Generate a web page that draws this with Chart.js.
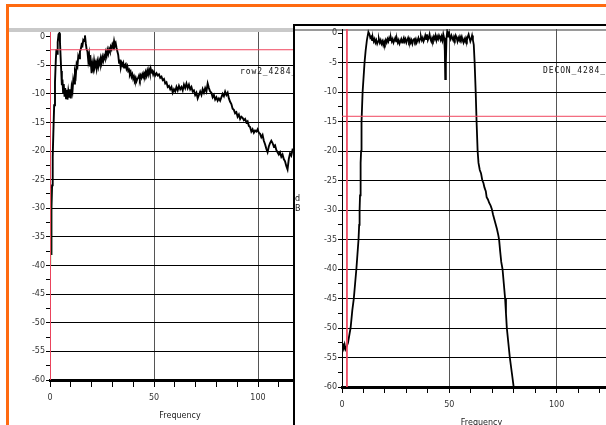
<!DOCTYPE html>
<html>
<head>
<meta charset="utf-8">
<script src="https://cdn.jsdelivr.net/npm/chart.js"></script>
<style>
  html, body { margin: 0; padding: 0; background: #fff; }
  body { width: 606px; height: 425px; overflow: hidden; position: relative; font-family: "DejaVu Sans", sans-serif; }
  .abs { position: absolute; }
  #orange { left: 6px; top: 4px; width: 620px; height: 440px; border-top: 3px solid #ff6a10; border-left: 3px solid #ff6a10; }
  #leftBand { left: 9px; top: 28px; width: 290px; height: 4px; background: #c9c9c9; }
  #rightBox { left: 293px; top: 24px; width: 340px; height: 420px; border-left: 2px solid #000; border-top: 2px solid #000; background: #fff; z-index: 2; }
  #rightBand { left: 295px; top: 29px; width: 320px; height: 2px; background: #9a9a9a; z-index: 3; }
  #c1 { left: 9px; top: 22px; z-index: 1; }
  #c2 { left: 295px; top: 19px; z-index: 4; }
  .tag { font-family: "DejaVu Sans Mono", monospace; font-size: 8px; letter-spacing: 0.9px; color: #111; white-space: nowrap; }
  #tag1 { left: 240px; top: 67px; z-index: 1; }
  #tag2 { left: 543px; top: 66px; z-index: 5; }
  #db2 { left: 295px; top: 194px; font-size: 8px; line-height: 10px; color: #111; z-index: 5; }
</style>
</head>
<body>
<div id="orange" class="abs"></div>
<div id="leftBand" class="abs"></div>
<canvas id="c1" class="abs" width="301" height="403"></canvas>
<div id="tag1" class="abs tag">row2_4284_</div>
<div id="rightBox" class="abs"></div>
<div id="rightBand" class="abs"></div>
<canvas id="c2" class="abs" width="333" height="418"></canvas>
<div id="tag2" class="abs tag">DECON_4284_</div>
<div id="db2" class="abs">d<br>B</div>
<script>
// [frequency, dB]
const row2Spectrum = [
  [0.5,-38],[0.6,-34],[0.8,-30],[1.0,-26],[1.3,-21],[1.6,-17],[2.0,-12],[2.4,-8],[2.8,-4],[3.1,-2.2],
  [3.4,-3],[3.7,-1],[4.1,0.4],[4.5,0.6],[4.8,-1],[5.1,-3.5],[5.4,-6],[5.7,-8.5],[6.0,-7.5],[6.3,-9.8],
  [6.6,-8.3],[7.0,-10.5],[7.3,-9],[7.7,-10.8],[8.0,-9.3],[8.4,-11],[8.8,-9.5],[9.2,-10.5],[9.6,-9.2],[10.0,-10.8],
  [10.4,-8.8],[10.8,-9.6],[11.2,-7.5],[11.6,-8.2],[12.0,-6.2],[12.4,-6.8],[12.8,-4.8],[13.2,-5.2],[13.6,-3.4],[14.0,-3.8],
  [14.4,-2.6],[14.8,-2.2],[15.2,-1.4],[15.6,-1.6],[16.0,-0.6],[16.4,-0.8],[16.8,0.2],[17.2,-1.2],[17.6,-2.2],[18.0,-2.6],
  [18.4,-4.2],[18.8,-3.2],[19.2,-5.2],[19.6,-4.4],[20.0,-6.4],[20.4,-4.8],[20.8,-5.6],[21.2,-4.2],[21.6,-5.2],[22.0,-4.6],
  [22.4,-5.6],[22.8,-4.4],[23.2,-5.2],[23.6,-4.2],[24.0,-4.8],[24.4,-3.8],[24.8,-4.6],[25.2,-3.6],[25.6,-4.2],[26.0,-3.4],
  [26.4,-3.8],[26.8,-2.8],[27.2,-3.4],[27.6,-2.4],[28.0,-3.0],[28.4,-2.2],[28.8,-2.6],[29.2,-1.8],[29.6,-2.2],[30.0,-1.4],
  [30.4,-1.8],[30.8,-0.8],[31.2,-1.6],[31.6,-1.2],[32.0,-2.0],[32.4,-2.6],[32.8,-3.2],[33.2,-4.6],[33.6,-4.0],[34.0,-5.4],
  [34.4,-4.6],[34.8,-5.0],[35.2,-4.6],[35.6,-5.4],[36.0,-5.0],[36.4,-4.8],[36.8,-5.6],[37.2,-5.2],[37.6,-6.0],[38.0,-5.8],
  [38.4,-6.6],[38.8,-6.2],[39.2,-7.0],[39.6,-6.6],[40.0,-7.4],[40.4,-7.0],[40.8,-7.6],[41.2,-7.2],[41.6,-7.8],[42.0,-7.4],
  [42.4,-7.2],[42.8,-6.8],[43.2,-7.4],[43.6,-6.8],[44.0,-7.2],[44.4,-6.6],[44.8,-7.0],[45.2,-6.4],[45.6,-6.8],[46.0,-6.2],
  [46.4,-6.8],[46.8,-6.0],[47.2,-6.6],[47.6,-5.8],[48.0,-6.4],[48.4,-5.6],[48.8,-6.2],[49.2,-6.0],[49.6,-6.6],[50.0,-6.2],
  [50.6,-6.8],[51.2,-6.4],[51.8,-6.8],[52.4,-6.6],[53.0,-7.2],[53.6,-7.0],[54.2,-7.6],[54.8,-7.4],[55.4,-8.2],[56.0,-8.0],
  [56.6,-8.8],[57.2,-8.6],[57.8,-9.2],[58.4,-8.8],[59.0,-9.8],[59.6,-9.2],[60.2,-9.6],[60.8,-8.8],[61.4,-9.4],[62.0,-8.6],
  [62.6,-9.2],[63.2,-8.8],[63.8,-9.4],[64.4,-8.4],[65.0,-9.0],[65.6,-8.2],[66.2,-9.0],[66.8,-8.4],[67.4,-9.2],[68.0,-8.8],
  [68.6,-9.6],[69.2,-9.4],[69.8,-10.2],[70.4,-9.8],[71.0,-10.8],[71.6,-10.2],[72.2,-9.6],[72.8,-10.2],[73.4,-9.2],[74.0,-9.8],
  [74.6,-9.0],[75.2,-9.6],[75.8,-8.2],[76.4,-9.0],[77.0,-9.6],[77.6,-9.8],[78.2,-10.6],[78.8,-10.2],[79.4,-11.0],[80.0,-10.6],
  [80.6,-11.2],[81.2,-10.8],[81.8,-11.2],[82.4,-10.6],[83.0,-10.0],[83.6,-10.4],[84.2,-9.6],[84.8,-10.2],[85.4,-9.8],[86.0,-10.8],
  [86.6,-11.4],[87.2,-11.8],[87.8,-12.6],[88.4,-12.8],[89.0,-13.4],[89.6,-13.2],[90.2,-14.0],[90.8,-13.6],[91.4,-14.4],[92.0,-14.0],
  [92.6,-14.2],[93.2,-14.6],[93.8,-14.4],[94.4,-15.0],[95.0,-14.8],[95.6,-15.6],[96.2,-15.8],[96.8,-16.6],[97.4,-16.2],[98.0,-16.8],
  [98.6,-16.4],[99.2,-16.6],[99.8,-16.2],[100.4,-16.8],[101.0,-17.0],[101.6,-17.6],[102.2,-17.2],[102.8,-18.2],[103.4,-18.8],[104.0,-19.6],
  [104.6,-20.2],[105.2,-19.2],[105.8,-18.6],[106.4,-18.2],[107.0,-18.6],[107.6,-19.2],[108.2,-19.0],[108.8,-19.8],[109.4,-20.2],[110.0,-20.6],
  [110.6,-20.2],[111.2,-21.0],[111.8,-20.6],[112.4,-21.4],[113.0,-21.8],[113.6,-22.6],[114.2,-23.2],[114.8,-21.4],[115.4,-20.4],[116.0,-20.8],
  [116.6,-19.8],[117.2,-20.0],[118,-20.5],[120,-21],[122,-21.5],[125,-22]
];
const row2GreenStub = [[0.2,-26.5],[0.2,-40]];

const deconSpectrum = [
  [0,-53.2],[0.4,-52.6],[0.8,-53.4],[1.2,-52.8],[1.6,-53.6],[2.1,-53.2],[2.8,-52.5],[3.6,-50.8],[4.0,-50],[4.8,-47],
  [5.5,-45],[6.1,-42.5],[6.7,-40],[7.2,-37.5],[7.7,-35],[8.0,-32.5],[8.2,-30],[8.4,-27.5],[8.6,-25],[8.75,-22],
  [8.9,-20],[9.1,-15],[9.6,-10],[10.5,-5],[11.0,-3],[11.6,-1.2],[12.3,0.2],[12.8,-0.2],[13.2,-0.8],[13.6,-0.6],
  [14.0,-1.2],[14.4,-0.8],[14.8,-1.4],[15.2,-1.0],[15.6,-1.6],[16.0,-1.2],[16.4,-1.8],[16.8,-1.4],[17.2,-1.0],[17.6,-1.6],
  [18.0,-1.2],[18.4,-1.8],[18.8,-1.4],[19.2,-2.0],[19.6,-1.4],[20.0,-1.8],[20.4,-1.2],[20.8,-1.6],[21.2,-1.0],[21.6,-1.4],
  [22.0,-0.8],[22.4,-1.2],[22.8,-0.8],[23.2,-1.4],[23.6,-1.0],[24.0,-1.6],[24.4,-1.2],[24.8,-0.8],[25.2,-1.4],[25.6,-1.0],
  [26.0,-1.6],[26.4,-1.2],[26.8,-1.8],[27.2,-1.4],[27.6,-1.0],[28.0,-1.6],[28.4,-1.2],[28.8,-0.8],[29.2,-1.4],[29.6,-1.0],
  [30.0,-1.6],[30.4,-1.2],[30.8,-0.8],[31.2,-1.4],[31.6,-1.0],[32.0,-1.6],[32.4,-1.2],[32.8,-1.8],[33.2,-1.2],[33.6,-1.0],
  [34.0,-1.4],[34.4,-1.0],[34.8,-1.6],[35.2,-1.2],[35.6,-0.8],[36.0,-1.4],[36.4,-1.0],[36.8,-0.6],[37.2,-1.2],[37.6,-0.8],
  [38.0,-1.4],[38.4,-1.0],[38.8,-0.4],[39.2,-1.0],[39.6,-0.2],[40.0,-1.2],[40.4,-0.8],[40.8,-0.2],[41.2,-1.0],[41.6,-1.4],
  [42.0,-0.8],[42.4,-1.2],[42.8,-0.6],[43.2,-1.0],[43.6,-0.4],[44.0,-1.2],[44.4,-0.6],[44.8,-1.0],[45.2,-0.4],[45.6,-0.8],
  [46.0,-1.2],[46.4,-0.6],[46.8,-1.2],[47.2,-0.2],[47.6,-0.8],[47.9,-3.0],[48.1,-7.8],[48.4,-5.0],[48.7,-0.8],[49.0,0.2],
  [49.4,-0.6],[49.8,0.3],[50.2,-0.6],[50.6,-1.0],[51.0,-0.4],[51.4,-0.8],[51.8,-1.2],[52.2,-0.6],[52.6,-1.0],[53.0,-0.4],
  [53.4,-0.8],[53.8,-1.4],[54.2,-0.8],[54.6,-1.2],[55.0,-0.6],[55.4,-1.0],[55.8,-0.6],[56.2,-1.2],[56.6,-1.6],[57.0,-1.0],
  [57.4,-1.4],[57.8,-0.8],[58.2,-1.2],[58.6,-0.6],[59.0,-0.2],[59.4,-0.8],[59.8,-1.4],[60.2,-1.0],[60.6,-0.4],[61.0,-1.2],
  [61.4,-2.0],[61.8,-5],[62.3,-10],[62.7,-15],[63.2,-20],[63.6,-22],[64.2,-23.2],[64.8,-23.8],[65.4,-25.0],[65.9,-25.4],
  [66.4,-26.2],[67.0,-26.8],[67.4,-27.8],[68.0,-28.2],[68.6,-28.8],[69.2,-29.2],[69.8,-29.8],[70.4,-30.8],[71.0,-31.6],[71.6,-32.4],
  [72.2,-33.2],[72.8,-34.2],[73.2,-35],[73.7,-37],[74.2,-38.8],[74.8,-40],[75.4,-42.5],[76.0,-45],[76.4,-47.5],[76.8,-50],
  [77.5,-52.5],[78.2,-55],[79.1,-57.5],[80.0,-60]
];

const row2CursorDb = -2.3;
const deconCursorDb = -14.1;
const deconCursorFreq = 2.3;

const yTicks = [0,-2.5,-5,-7.5,-10,-12.5,-15,-17.5,-20,-22.5,-25,-27.5,-30,-32.5,-35,-37.5,-40,-42.5,-45,-47.5,-50,-52.5,-55,-57.5,-60];
const xTicks = [0,10,20,30,40,50,60,70,80,90,100,110,120,130];
const xLabels = [0,50,100];

const RED = '#f0465f';
const tickFont = { family: 'DejaVu Sans', size: 8 };

function pts(arr) { return arr.map(p => ({ x: p[0], y: p[1] })); }

function spectrumChart(id, o) {
  return new Chart(document.getElementById(id), {
    type: 'line',
    data: { datasets: o.datasets },
    options: {
      responsive: false,
      animation: false,
      layout: { padding: { top: 10, left: 0, right: 0, bottom: 0 } },
      plugins: { legend: { display: false }, tooltip: { enabled: false } },
      elements: { point: { radius: 0 }, line: { tension: 0 } },
      scales: {
        x: {
          type: 'linear', min: 0, max: o.xMax,
          afterBuildTicks: s => { s.ticks = xTicks.filter(v => v <= o.xMax).map(v => ({ value: v })); },
          afterFit: s => { s.height = o.xHeight; },
          ticks: { font: tickFont, color: '#333', maxRotation: 0, autoSkip: false, padding: o.xPad,
                   callback: v => xLabels.includes(v) ? String(v) : '' },
          grid: { color: c => (c.tick && (c.tick.value === 50 || c.tick.value === 100)) ? '#555' : 'rgba(0,0,0,0)',
                  tickColor: '#000', tickLength: o.xTickLen },
          border: { color: '#000', width: 3 },
          title: { display: true, text: 'Frequency', color: '#222', font: { family: 'DejaVu Sans', size: 8 }, padding: { top: 0, bottom: o.titlePad } }
        },
        y: {
          type: 'linear', min: -60, max: o.yMax,
          afterBuildTicks: s => { s.ticks = yTicks.map(v => ({ value: v })); },
          afterFit: s => { s.width = o.yWidth; },
          ticks: { font: tickFont, color: '#333', padding: 1, autoSkip: false,
                   callback: v => (v % 5 === 0) ? String(v) : '' },
          grid: { color: c => (c.tick && c.tick.value % 5 === 0 && c.tick.value !== 0) ? '#000' : 'rgba(0,0,0,0)',
                  tickColor: '#000', tickLength: 4 },
          border: { color: '#000', width: 1 }
        }
      }
    }
  });
}

spectrumChart('c1', {
  xMax: 125, yMax: 0.8, yWidth: 41, xHeight: 45, xPad: 6, xTickLen: 7, titlePad: 4,
  datasets: [
    { data: pts([[0.1, 0.8], [0.1, -60]]), borderColor: RED, borderWidth: 1 },
    { data: pts([[0, row2CursorDb], [125, row2CursorDb]]), borderColor: RED, borderWidth: 1 },
    { data: pts(row2GreenStub), borderColor: '#3bd13b', borderWidth: 1.5 },
    { data: pts(row2Spectrum), borderColor: '#000', borderWidth: 1.9 }
  ]
});

spectrumChart('c2', {
  xMax: 130, yMax: 0.7, yWidth: 47, xHeight: 50, xPad: 7, xTickLen: 6, titlePad: 9,
  datasets: [
    { data: pts([[deconCursorFreq, 0.7], [deconCursorFreq, -60]]), borderColor: RED, borderWidth: 1 },
    { data: pts([[0, deconCursorDb], [130, deconCursorDb]]), borderColor: RED, borderWidth: 1 },
    { data: pts(deconSpectrum), borderColor: '#000', borderWidth: 1.8 }
  ]
});
</script>
</body>
</html>
